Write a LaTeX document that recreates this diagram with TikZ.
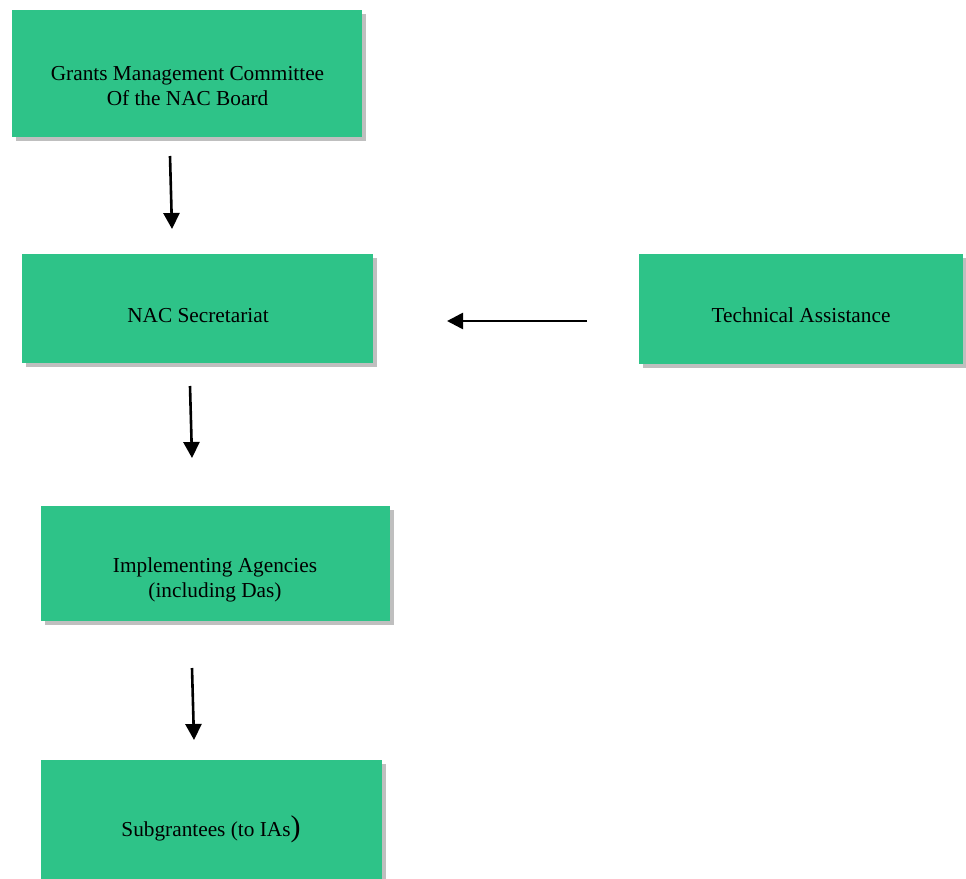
\documentclass[tikz,border=0pt]{standalone}
\usepackage{fontspec}
\setmainfont{Liberation Serif}
\usetikzlibrary{shadows}
\usetikzlibrary{arrows.meta}
\definecolor{boxgreen}{RGB}{46,195,136}
\tikzstyle{orgbox}=[rectangle,fill=boxgreen,inner sep=0pt,drop shadow={shadow xshift=4pt,shadow yshift=-4pt,fill=black!25,opacity=1}]
\tikzstyle{boxtext}=[align=center,inner sep=0pt,font=\fontsize{21.3}{24.5}\selectfont]
\tikzstyle{flow}=[draw,line width=2.6pt,-{Triangle[length=16pt,width=16pt]}]

\begin{document}
\begin{tikzpicture}[x=1pt,y=-1pt]
    \useasboundingbox (0,0) rectangle (966,878);

    % boxes
    \foreach \pos/\name/\w/\h in {{(187,73.5)/gmc/350/127}, {(197.5,308.5)/sec/351/109},
        {(801,309)/ta/324/110}, {(215.5,563.5)/ia/349/115}, {(211.5,825)/sub/341/130}}
        \node[orgbox,minimum width=\w pt,minimum height=\h pt] (\name) at \pos {};

    % texts
    \node[boxtext] (gmcT) at (187.5,86) {Grants Management Committee\\Of the NAC Board};
    \node[boxtext] (secT) at (198,316) {NAC Secretariat};
    \node[boxtext] (taT) at (801,315) {Technical Assistance};
    \node[boxtext] (iaT) at (215,580) {Implementing Agencies\\(including Das)};
    \node[boxtext] (subT) at (211,829) {Subgrantees (to IAs{\fontsize{30}{30}\selectfont )}};

    % arrow ends
    \coordinate (a1) at (170,156);
    \coordinate (b1) at (172,229);
    \coordinate (a2) at (190,386);
    \coordinate (b2) at (192,458);
    \coordinate (a3) at (192,668);
    \coordinate (b3) at (194,740);
    \coordinate (a4) at (587,321);
    \coordinate (b4) at (447,321);

    % arrows
    \foreach \src/\dst in {a1/b1, a2/b2, a3/b3, a4/b4}
        \path[flow] (\src) -- (\dst);
\end{tikzpicture}
\end{document}
